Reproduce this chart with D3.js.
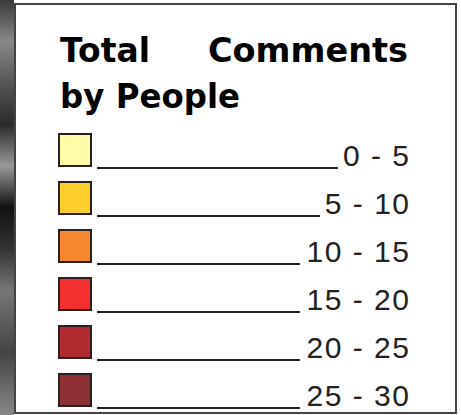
<!DOCTYPE html>
<html><head><meta charset="utf-8">
<script src="https://cdn.jsdelivr.net/npm/d3@7/dist/d3.min.js"></script>
<style>html,body{margin:0;padding:0;background:#fff;}svg{display:block;}</style>
</head><body>
<script>
const titleLines = [["Total", "Comments"], ["by People"]];
const categories = ["0 - 5", "5 - 10", "10 - 15", "15 - 20", "20 - 25", "25 - 30"];
const colors = ["#FFFBA6", "#FDCF2C", "#F7882F", "#F3302F", "#AE2A2F", "#8C3035"];
const underlineEnds = [338, 320, 300, 300, 300, 300];

const W = 461, H = 415;
const svg = d3.select("body").append("svg").attr("width", W).attr("height", H);

// left map strip
const defs = svg.append("defs");
const g = defs.append("linearGradient").attr("id", "strip").attr("x1", 0).attr("y1", 0).attr("x2", 0).attr("y2", 1);
[[0,"#3a3a3a"],[0.1,"#888"],[0.2,"#555"],[0.3,"#2a2a2a"],[0.4,"#999"],[0.5,"#111"],[0.6,"#333"],[0.7,"#777"],[0.85,"#444"],[1,"#888"]]
  .forEach(([o,c]) => g.append("stop").attr("offset", o).attr("stop-color", c));
svg.append("rect").attr("x", 0).attr("y", 0).attr("width", 14).attr("height", H).attr("fill", "url(#strip)");

// frame
svg.append("rect").attr("x", 15).attr("y", 4).attr("width", 441).attr("height", 409)
  .attr("fill", "#fff").attr("stroke", "#444").attr("stroke-width", 2);

// title
const tg = svg.append("g").attr("font-family", "DejaVu Sans, Verdana, sans-serif")
  .attr("font-weight", "bold").attr("font-size", 33).attr("fill", "#000");
tg.append("text").attr("x", 60).attr("y", 62).attr("textLength", 90).attr("lengthAdjust", "spacingAndGlyphs").text(titleLines[0][0]);
tg.append("text").attr("x", 208).attr("y", 62).attr("textLength", 200).attr("lengthAdjust", "spacingAndGlyphs").text(titleLines[0][1]);
tg.append("text").attr("x", 60).attr("y", 108).attr("textLength", 180).attr("lengthAdjust", "spacingAndGlyphs").text(titleLines[1][0]);

const y = d3.scaleBand().domain(categories).range([133, 133 + 48 * 6]).paddingInner(0).paddingOuter(0);

const rows = svg.selectAll("g.row").data(categories).join("g").attr("class", "row")
  .attr("transform", d => `translate(0,${y(d)})`);

rows.append("rect").attr("x", 59).attr("y", 1).attr("width", 32).attr("height", 32)
  .attr("fill", (d, i) => colors[i]).attr("stroke", "#2a2020").attr("stroke-width", 2);

rows.append("line").attr("x1", 97).attr("x2", (d, i) => underlineEnds[i])
  .attr("y1", 35).attr("y2", 35).attr("stroke", "#222").attr("stroke-width", 2);

rows.append("text").attr("x", 410.5).attr("y", 33).attr("text-anchor", "end")
  .attr("font-family", "Liberation Sans, Arial, sans-serif").attr("font-size", 30)
  .attr("letter-spacing", 1.5)
  .attr("fill", "#222").text(d => d);
</script>
</body></html>
